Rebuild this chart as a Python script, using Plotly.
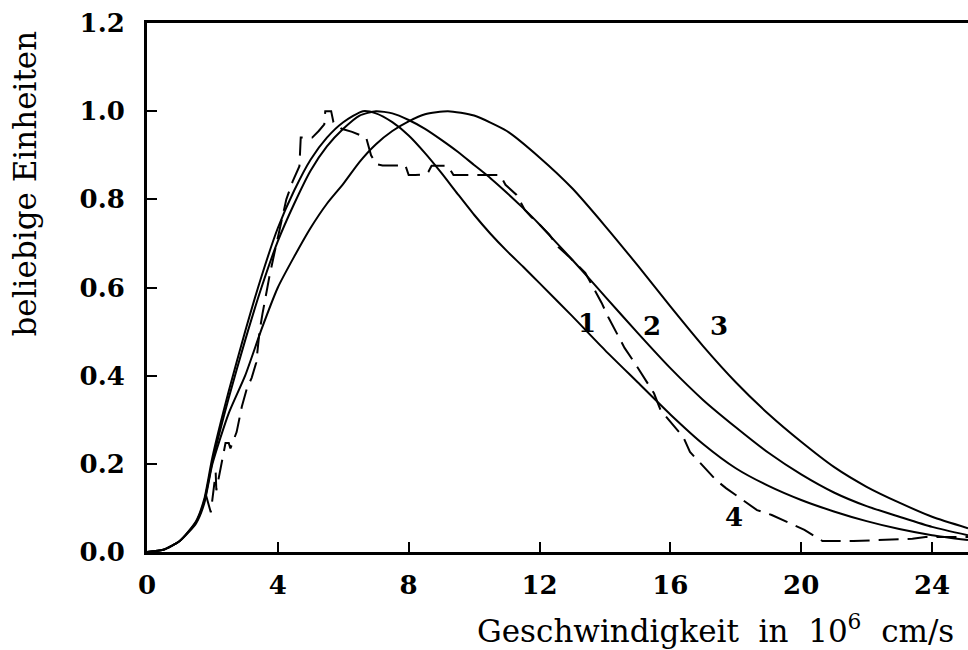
import plotly.graph_objects as go

# ---- data ----
x1 = [0, 0.5, 1.0, 1.5, 1.75, 2.0, 2.5, 3.0, 3.5, 4.0, 4.5, 5.0, 5.5, 6.0, 6.6, 7.0, 7.5, 8.0, 8.5,
      9.0, 9.5, 10.0, 10.5, 11.0, 11.5, 12.0, 13.0, 14.0, 15.0, 16.0, 17.0, 18.0, 19.0, 20.0, 21.0,
      22.0, 23.0, 24.0, 25.1]
y1 = [0, 0.005, 0.025, 0.07, 0.12, 0.215, 0.365, 0.50, 0.625, 0.735, 0.82, 0.89, 0.94, 0.975, 1.0,
      0.995, 0.975, 0.945, 0.905, 0.86, 0.812, 0.765, 0.722, 0.683, 0.647, 0.61, 0.535, 0.458, 0.385,
      0.312, 0.245, 0.19, 0.15, 0.118, 0.092, 0.07, 0.052, 0.038, 0.027]

x2 = [0, 0.5, 1.0, 1.5, 1.75, 2.0, 2.5, 3.0, 3.5, 4.0, 4.5, 5.0, 5.5, 6.0, 6.5, 7.0, 7.5, 8.0, 8.5,
      9.0, 9.5, 10.0, 10.5, 11.0, 11.5, 12.0, 12.5, 13.0, 13.5, 14.0, 15.0, 16.0, 17.0, 18.0, 19.0,
      20.0, 21.0, 22.0, 23.0, 24.0, 25.1]
y2 = [0, 0.005, 0.025, 0.068, 0.115, 0.205, 0.35, 0.48, 0.60, 0.705, 0.79, 0.865, 0.92, 0.96, 0.99,
      1.0, 0.995, 0.98, 0.96, 0.935, 0.908, 0.878, 0.848, 0.815, 0.78, 0.743, 0.703, 0.663, 0.622,
      0.58, 0.497, 0.417, 0.345, 0.283, 0.225, 0.176, 0.135, 0.104, 0.08, 0.057, 0.038]

x3 = [0, 0.5, 1.0, 1.5, 1.75, 2.0, 2.5, 3.0, 3.5, 4.0, 4.5, 5.0, 5.5, 6.0, 6.5, 7.0, 7.5, 8.0, 8.5,
      9.2, 10.0, 11.0, 12.0, 13.0, 14.0, 15.0, 16.0, 17.0, 18.0, 19.0, 20.0, 21.0, 22.0, 23.0,
      24.0, 25.1]
y3 = [0, 0.005, 0.025, 0.065, 0.11, 0.2, 0.315, 0.40, 0.505, 0.60, 0.67, 0.735, 0.79, 0.835, 0.885,
      0.925, 0.955, 0.977, 0.993, 1.0, 0.99, 0.955, 0.895, 0.825, 0.74, 0.65, 0.557, 0.467, 0.385,
      0.313, 0.25, 0.193, 0.148, 0.112, 0.08, 0.054]

x4 = [1.8, 1.95, 2.0, 2.1, 2.12, 2.3, 2.4, 2.5, 2.55, 2.74, 2.9, 3.05, 3.2, 3.34, 3.4, 3.44, 3.53,
      3.65, 3.74, 3.9, 4.1, 4.26, 4.45, 4.66, 4.7, 5.05, 5.25, 5.42, 5.45, 5.63, 5.7, 5.95, 6.27, 6.7,
      6.85, 7.0, 7.2, 7.9, 8.0, 8.2, 8.5, 8.6, 8.7, 9.2, 9.37, 10.8, 10.96, 11.3, 11.55, 11.75, 11.96,
      12.3, 12.57, 12.9, 13.4, 13.9, 14.1, 14.6, 14.9, 15.5, 15.7, 16.4, 16.6, 17.4, 17.7, 18.65,
      19.1, 20.1, 20.5, 20.65, 21.6, 22.2, 23.4, 23.8, 25.1]
y4 = [0.13, 0.09, 0.12, 0.18, 0.14, 0.21, 0.247, 0.247, 0.235, 0.272, 0.33, 0.37, 0.395, 0.43, 0.48,
      0.50, 0.54, 0.59, 0.624, 0.68, 0.75, 0.80, 0.84, 0.875, 0.94, 0.94, 0.955, 0.97, 1.0, 1.0, 0.975,
      0.96, 0.953, 0.94, 0.90, 0.88, 0.877, 0.877, 0.855, 0.855, 0.857, 0.862, 0.876, 0.876, 0.855,
      0.855, 0.833, 0.81, 0.776, 0.76, 0.746, 0.72, 0.692, 0.67, 0.633, 0.565, 0.533, 0.463, 0.43,
      0.36, 0.322, 0.26, 0.227, 0.163, 0.145, 0.095, 0.084, 0.05, 0.032, 0.025, 0.025, 0.027, 0.03,
      0.034, 0.034]

curve_labels = ["1", "2", "3", "4"]
label_x = [13.45, 15.45, 17.5, 17.95]
label_y = [0.52, 0.513, 0.513, 0.08]

x_ticks = [0, 4, 8, 12, 16, 20, 24]
y_ticks = [0.0, 0.2, 0.4, 0.6, 0.8, 1.0, 1.2]
y_tick_text = ["0.0", "0.2", "0.4", "0.6", "0.8", "1.0", "1.2"]

FONT = "DejaVu Serif"

fig = go.Figure()
for xs, ys in [(x1, y1), (x2, y2), (x3, y3)]:
    fig.add_trace(go.Scatter(x=xs, y=ys, mode="lines",
                             line=dict(color="black", width=2, shape="spline", smoothing=0.6),
                             showlegend=False, hoverinfo="skip"))
fig.add_trace(go.Scatter(x=x4, y=y4, mode="lines", line=dict(color="black", width=2, dash="20px,9px"),
                         showlegend=False, hoverinfo="skip"))

for t, lx, ly in zip(curve_labels, label_x, label_y):
    fig.add_annotation(x=lx, y=ly, text=t, showarrow=False, xref="x", yref="y",
                       font=dict(family=FONT, size=26, color="black", weight="bold"))

fig.add_annotation(text="beliebige Einheiten", textangle=-90, xref="paper", yref="paper",
                   x=-0.149, y=0.696, xanchor="center", yanchor="middle", showarrow=False,
                   font=dict(family=FONT, size=31, color="black"))
fig.add_annotation(text="Geschwindigkeit  in  10<sup>6</sup>  cm/s", xref="paper", yref="paper",
                   x=0.985, y=-0.145, xanchor="right", yanchor="middle", showarrow=False,
                   font=dict(family=FONT, size=31, color="black"))

fig.update_layout(
    width=968, height=650,
    margin=dict(l=147, r=0, t=23, b=98),
    paper_bgcolor="white", plot_bgcolor="white",
    xaxis=dict(range=[0, 25.1], tickvals=x_ticks, ticks="inside", ticklen=10, tickwidth=1.5,
               tickcolor="black", showline=True, linecolor="black", linewidth=2.5, mirror=True,
               showgrid=False, zeroline=False, ticklabelstandoff=8,
               tickfont=dict(family=FONT, size=26, color="black", weight="bold")),
    yaxis=dict(range=[0, 1.2], tickvals=y_ticks, ticktext=y_tick_text, ticks="inside", ticklen=10,
               tickwidth=1.5, tickcolor="black", showline=True, linecolor="black", linewidth=3,
               showgrid=False, zeroline=False, ticklabelstandoff=14,
               tickfont=dict(family=FONT, size=26, color="black", weight="bold")),
)

fig.write_html("out.html")
